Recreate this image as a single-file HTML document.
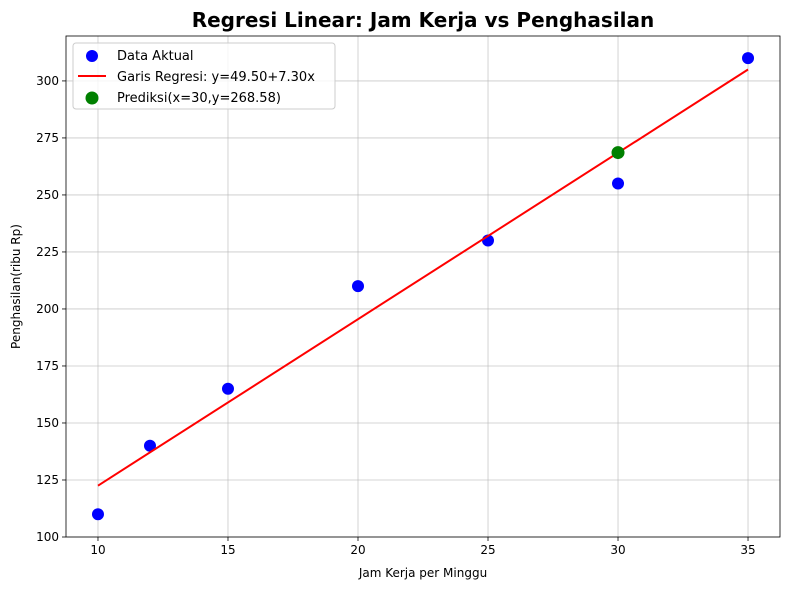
<!DOCTYPE html>
<html><head><meta charset="utf-8"><style>
body{margin:0;background:#fff;font-family:"Liberation Sans","DejaVu Sans",sans-serif}
svg text{font-family:"DejaVu Sans","Liberation Sans",sans-serif}
</style></head><body>
<svg id="c" width="790" height="590"></svg>
<script>
const xs=[10,12,15,20,25,30,35];
const ys=[110,140,165,210,230,255,310];
const intercept=49.5, slope=7.30;
const predX=[30], predY=[268.58];
const xTicks=[10,15,20,25,30,35];
const yTicks=[100,125,150,175,200,225,250,275,300];
const L=66,R=780,T=36,B=537;
const xMin=8.77,xMax=36.23,yMin=100,yMax=319.7;
const sx=v=>L+(v-xMin)/(xMax-xMin)*(R-L);
const sy=v=>B-(v-yMin)/(yMax-yMin)*(B-T);
const svg=document.getElementById('c');
const NS='http://www.w3.org/2000/svg';
function mk(t,a,p){const e=document.createElementNS(NS,t);for(const k in a)e.setAttribute(k,a[k]);(p||svg).appendChild(e);return e;}
const grid=mk('g',{});


xTicks.forEach(v=>{mk('line',{x1:sx(v),x2:sx(v),y1:T,y2:B,stroke:'#b0b0b0','stroke-width':0.8,'stroke-opacity':0.7},grid);
mk('line',{x1:sx(v),x2:sx(v),y1:B,y2:B+4,stroke:'#000','stroke-width':0.8});
const t=mk('text',{x:sx(v),y:B+17,'text-anchor':'middle','font-size':12});t.textContent=v;

});
yTicks.forEach(v=>{mk('line',{x1:L,x2:R,y1:sy(v),y2:sy(v),stroke:'#b0b0b0','stroke-width':0.8,'stroke-opacity':0.7},grid);
mk('line',{x1:L-4,x2:L,y1:sy(v),y2:sy(v),stroke:'#000','stroke-width':0.8});
const t=mk('text',{x:L-7,y:sy(v)+4,'text-anchor':'end','font-size':12});t.textContent=v;

});
xs.forEach((x,i)=>{const c=mk('circle',{cx:sx(x),cy:sy(ys[i]),r:6,fill:'#0000ff'});

});
const x0=Math.min(...xs),x1=Math.max(...xs);
const ln=mk('line',{x1:sx(x0),y1:sy(intercept+slope*x0),x2:sx(x1),y2:sy(intercept+slope*x1),stroke:'#ff0000','stroke-width':2});


predX.forEach((x,i)=>{const c=mk('circle',{cx:sx(x),cy:sy(predY[i]),r:6.5,fill:'#008000'});

});
const fr=mk('rect',{x:L,y:T,width:R-L,height:B-T,fill:'none',stroke:'#000','stroke-width':0.8});


const ti=mk('text',{x:(L+R)/2,y:27,'text-anchor':'middle','font-size':20,'font-weight':'bold'});ti.textContent='Regresi Linear: Jam Kerja vs Penghasilan';


const xl=mk('text',{x:(L+R)/2,y:577,'text-anchor':'middle','font-size':12});xl.textContent='Jam Kerja per Minggu';


const yl=mk('text',{x:20,y:(T+B)/2,'text-anchor':'middle','font-size':12,transform:`rotate(-90 20 ${(T+B)/2})`});yl.textContent='Penghasilan(ribu Rp)';


const lg=mk('g',{});


mk('rect',{x:73,y:43,width:262,height:66,rx:3,fill:'#fff','fill-opacity':0.8,stroke:'#ccc'},lg);
mk('circle',{cx:92,cy:56,r:6,fill:'#0000ff'},lg);
mk('line',{x1:78,x2:106,y1:76,y2:76,stroke:'#ff0000','stroke-width':2},lg);
mk('circle',{cx:92,cy:98,r:6.5,fill:'#008000'},lg);
[['Data Aktual',60],['Garis Regresi: y=49.50+7.30x',81],['Prediksi(x=30,y=268.58)',102]].forEach(([s,y])=>{const t=mk('text',{x:117,y:y,'font-size':13},lg);t.textContent=s;

});
</script>
</body></html>
